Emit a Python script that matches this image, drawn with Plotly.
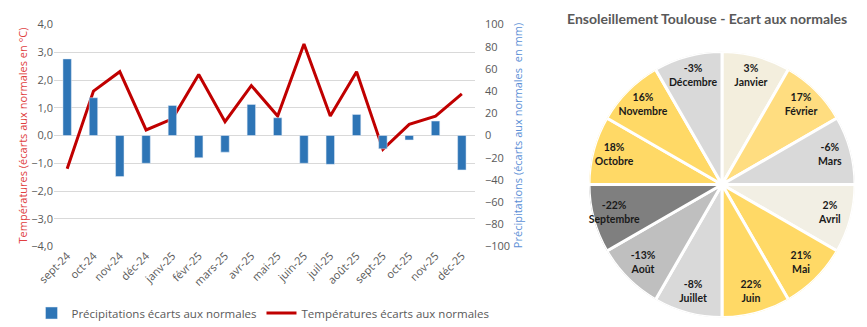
import plotly.graph_objects as go

# --- data ---
mois = ["sept-24", "oct-24", "nov-24", "déc-24", "janv-25", "févr-25", "mars-25", "avr-25",
        "mai-25", "juin-25", "juil-25", "août-25", "sept-25", "oct-25", "nov-25", "déc-25"]
precip_mm = [69, 34, -37, -25, 27, -20, -15, 28, 16, -25, -26, 19, -12, -4, 13, -31]
temp_c = [-1.2, 1.6, 2.3, 0.2, 0.6, 2.2, 0.5, 1.8, 0.7, 3.3, 0.7, 2.3, -0.5, 0.4, 0.7, 1.5]

soleil_mois = ["Janvier", "Février", "Mars", "Avril", "Mai", "Juin",
               "Juillet", "Août", "Septembre", "Octobre", "Novembre", "Décembre"]
soleil_ecart = [3, 17, -6, 2, 21, 22, -8, -13, -22, 18, 16, -3]
soleil_couleurs = ["#F3EEDD", "#FFDD80", "#D9D9D9", "#F2EFE4", "#FFD966", "#FFD966",
                   "#D9D9D9", "#BFBFBF", "#7F7F7F", "#FFD966", "#FFD966", "#D9D9D9"]

GRAY = "#595959"
FONT = "Open Sans"

# page body has an 8px margin -> figure is drawn 8px right/down of the window corner
W, H = 859, 319

fig = go.Figure()

fig.add_trace(go.Bar(
    x=mois, y=precip_mm, yaxis="y2",
    marker=dict(color="#2E75B6"),
    name="Précipitations écarts aux normales",
))
fig.add_trace(go.Scatter(
    x=mois, y=temp_c, mode="lines",
    line=dict(color="#C00000", width=3),
    name="Températures écarts aux normales",
))

# sunshine "pie": 12 equal sectors on a polar subplot, labels near the rim
n = len(soleil_mois)
angles = [(i + 0.5) * 360 / n for i in range(n)]
fig.add_trace(go.Barpolar(
    r=[1] * n, theta=angles, width=[360 / n] * n,
    marker=dict(color=soleil_couleurs, line=dict(color="white", width=3)),
    showlegend=False, hoverinfo="text",
    hovertext=[f"{m} : {v}%" for m, v in zip(soleil_mois, soleil_ecart)],
))
fig.add_trace(go.Scatterpolar(
    r=[0.84] * n, theta=angles, mode="text",
    text=[f"<b>{v}%<br>{m}</b>" for v, m in zip(soleil_ecart, soleil_mois)],
    textfont=dict(family="Lato", size=10.5, color="#1A1A1A"),
    showlegend=False, hoverinfo="skip",
))

fig.update_layout(
    width=W, height=H,
    margin=dict(l=0, r=0, t=0, b=0, autoexpand=False),
    paper_bgcolor="white", plot_bgcolor="white",
    separators=", ",
    font=dict(family=FONT, size=11, color=GRAY),
    bargap=0.68,
    xaxis=dict(
        domain=[46 / W, 467 / W], automargin=False,
        tickangle=-45, showgrid=False, zeroline=False, showline=False,
        ticks="", tickfont=dict(size=11, color=GRAY),
    ),
    yaxis=dict(
        range=[-4, 4], dtick=1, tickformat=".1f", automargin=False,
        domain=[1 - 238.5 / H, 1 - 16.5 / H],
        showgrid=True, gridcolor="#D9D9D9", gridwidth=1.2, zeroline=False,
        tickfont=dict(size=11, color=GRAY),
        title=dict(text="Températures (écarts aux normales en °C)",
                   font=dict(size=11, color="#E04040"), standoff=1),
    ),
    yaxis2=dict(
        range=[-100, 100], dtick=20, overlaying="y", side="right", automargin=False,
        showgrid=False, zeroline=False, ticklabelstandoff=9,
        tickfont=dict(size=11, color=GRAY),
        title=dict(text="Précipitations (écarts aux normales  en mm)",
                   font=dict(size=11, color="#5B8FD6"), standoff=4),
    ),
    polar=dict(
        domain=dict(x=[581 / W, 847 / W], y=[1 - 309.5 / H, 1 - 43.5 / H]),
        bgcolor="white", hole=0,
        radialaxis=dict(range=[0, 1], visible=False),
        angularaxis=dict(rotation=90, direction="clockwise", visible=False),
        barmode="overlay",
    ),
    legend=dict(
        orientation="h", x=255 / W, xanchor="center", y=1 - 305 / H, yanchor="middle",
        font=dict(size=11.5, color=GRAY), traceorder="normal",
    ),
    annotations=[dict(
        text="<b>Ensoleillement Toulouse - Ecart aux normales</b>",
        x=699 / W, xanchor="center", y=1, yanchor="top",
        xref="paper", yref="paper", showarrow=False,
        font=dict(family="Lato", size=14, color=GRAY),
    )],
)

fig.write_html("out.html")
